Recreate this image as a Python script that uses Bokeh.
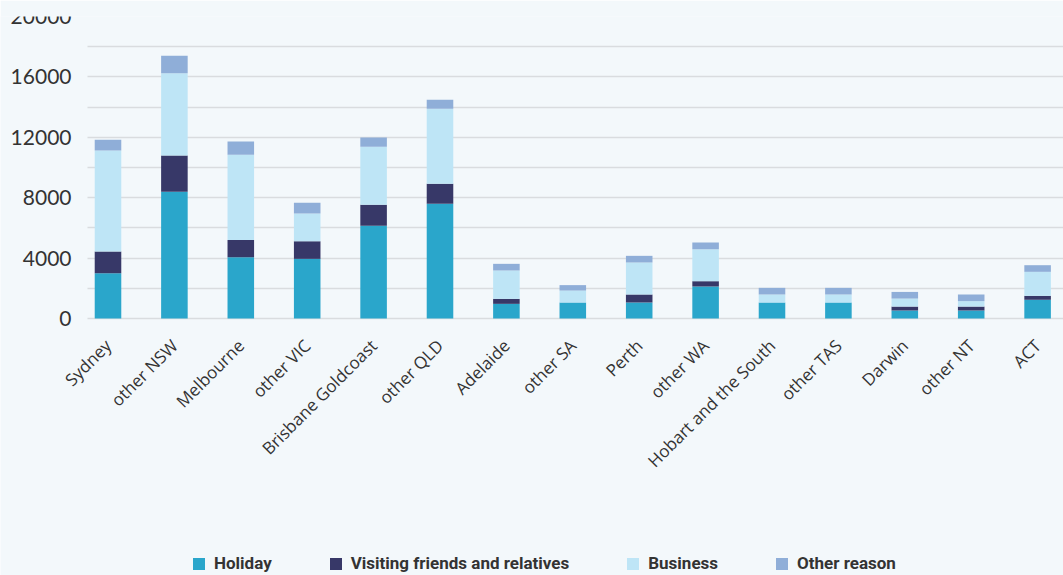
import math
from bokeh.plotting import figure
from bokeh.models import (ColumnDataSource, Range1d, FixedTicker, Legend, LegendItem,
                          LinearAxis, Grid)
from bokeh.embed import file_html
from bokeh.resources import INLINE

categories = ["Sydney", "other NSW", "Melbourne", "other VIC", "Brisbane Goldcoast",
              "other QLD", "Adelaide", "other SA", "Perth", "other WA",
              "Hobart and the South", "other TAS", "Darwin", "other NT", "ACT"]
holiday = [3000, 8400, 4050, 3950, 6150, 7600, 970, 1060, 1060, 2120, 1060, 1060, 530, 530, 1240]
visiting = [1430, 2400, 1150, 1170, 1390, 1330, 330, 0, 530, 350, 0, 0, 260, 260, 260]
business = [6690, 5450, 5650, 1830, 3840, 4960, 1880, 790, 2120, 2120, 530, 530, 530, 360, 1590]
other_reason = [710, 1150, 880, 710, 610, 600, 440, 360, 440, 440, 440, 440, 440, 440, 440]

series = ["Holiday", "Visiting friends and relatives", "Business", "Other reason"]
colors = ["#2aa6cb", "#373868", "#bee5f6", "#8faed8"]
y_ticks = [0, 4000, 8000, 12000, 16000, 20000]
y_minor = [2000, 6000, 10000, 14000, 18000]

BG = "#f3f8fb"

FRAME_W = 1063
FRAME_H = 559
PX_PER_UNIT_Y = 302 / 20000   # 20000 spans 302 px
PX_PER_CAT = 66.4             # category spacing in px
AXIS_PX = 87                  # screen x of the value axis
X_START = -107.5 / PX_PER_CAT
X_AXIS_LOC = X_START + AXIS_PX / PX_PER_CAT
X_END = X_START + FRAME_W / PX_PER_CAT

src = ColumnDataSource(data=dict(
    x=list(range(len(categories))),
    Holiday=holiday,
    Visiting=visiting,
    Business=business,
    Other=other_reason,
))

p = figure(frame_width=FRAME_W, frame_height=FRAME_H, output_backend="svg", toolbar_location=None,
           x_axis_type=None, y_axis_type=None,
           x_range=Range1d(X_START, X_END),
           y_range=Range1d(max(y_ticks) - FRAME_H / PX_PER_UNIT_Y, max(y_ticks)),
           min_border_left=0, min_border_top=16, min_border_right=0, min_border_bottom=0)
p.background_fill_color = BG
p.border_fill_color = BG
p.outline_line_color = None

# grid lines (major every 4000, minor every 2000), starting at the value axis
ygrid = Grid(dimension=1, ticker=FixedTicker(ticks=y_ticks, minor_ticks=y_minor),
             grid_line_color="#d9dcdf", grid_line_width=1.6,
             minor_grid_line_color="#d9dcdf", minor_grid_line_width=1.6)
if "cross_bounds" in Grid.properties():
    ygrid.cross_bounds = (X_AXIS_LOC, X_END)
p.add_layout(ygrid)

renderers = p.vbar_stack(["Holiday", "Visiting", "Business", "Other"], x="x", width=0.4,
                         color=colors, line_color=None, source=src)

# category axis drawn at y = 0
xaxis = LinearAxis(ticker=FixedTicker(ticks=list(range(len(categories)))), fixed_location=0)
xaxis.major_label_overrides = {i: c for i, c in enumerate(categories)}
xaxis.major_label_orientation = math.pi / 4
xaxis.axis_line_color = None
xaxis.major_tick_line_color = None
xaxis.minor_tick_line_color = None
xaxis.major_label_text_font = "Open Sans"
xaxis.major_label_text_font_size = "17px"
xaxis.major_label_text_color = "#333333"
xaxis.major_label_standoff = 18
p.add_layout(xaxis, "below")

# value axis
yaxis = LinearAxis(ticker=FixedTicker(ticks=y_ticks), fixed_location=X_AXIS_LOC)
yaxis.axis_line_color = None
yaxis.major_tick_line_color = None
yaxis.minor_tick_line_color = None
yaxis.major_label_text_font = "Lato"
yaxis.major_label_text_font_size = "21px"
yaxis.major_label_text_color = "#333333"
yaxis.major_label_standoff = 10
yaxis.formatter.use_scientific = False
p.add_layout(yaxis, "left")

legend = Legend(items=[LegendItem(label=s, renderers=[r]) for s, r in zip(series, renderers)],
                orientation="horizontal", location=(191, 2))
legend.background_fill_alpha = 0
legend.border_line_color = None
legend.padding = 0
legend.margin = 0
legend.spacing = 56
legend.glyph_width = 15
legend.glyph_height = 15
legend.label_standoff = 8
legend.label_text_font = "Roboto"
legend.label_text_font_style = "bold"
legend.label_text_font_size = "17px"
legend.label_text_color = "#333333"
p.add_layout(legend, "center")

open("out.html", "w").write(file_html(p, INLINE))
